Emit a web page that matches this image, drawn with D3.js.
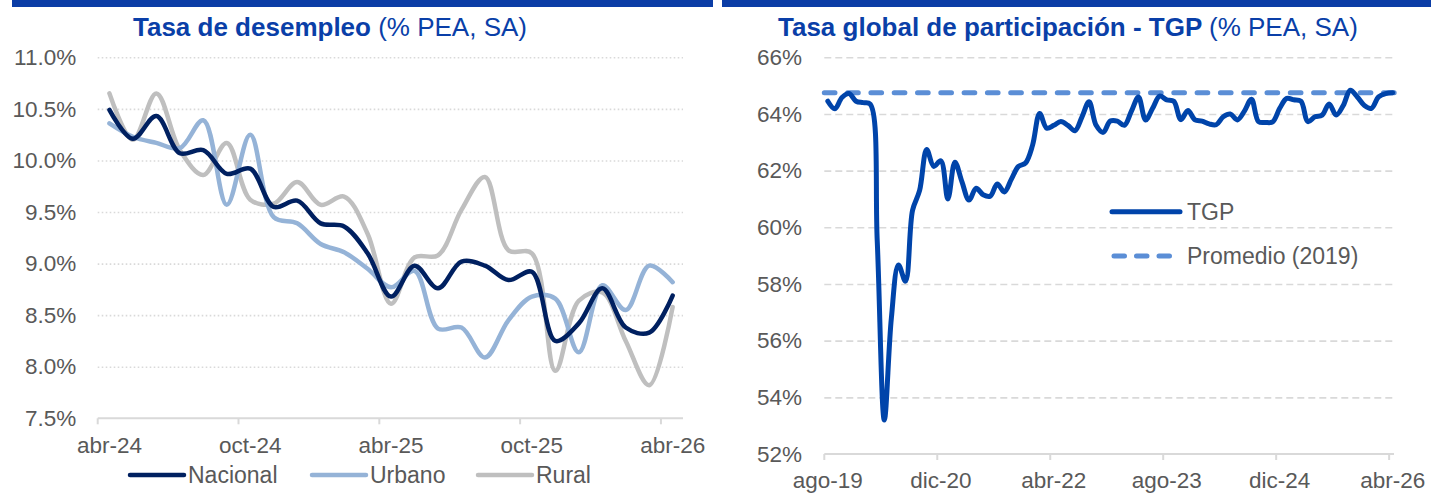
<!DOCTYPE html>
<html>
<head>
<meta charset="utf-8">
<script src="https://cdn.jsdelivr.net/npm/d3@7"></script>
<style>
  html, body { margin: 0; padding: 0; background: #fff; }
  svg { display: block; font-family: "Liberation Sans", Arial, sans-serif; }
</style>
</head>
<body>
<div id="chart"></div>
<script>
// ---- data: left panel (tasa de desempleo, %)
var monthsL = ["abr-24", "may-24", "jun-24", "jul-24", "ago-24", "sep-24", "oct-24", "nov-24", "dic-24",
  "ene-25", "feb-25", "mar-25", "abr-25", "may-25", "jun-25", "jul-25", "ago-25", "sep-25", "oct-25",
  "nov-25", "dic-25", "ene-26", "feb-26", "mar-26", "abr-26"];
var nacional = [10.49, 10.21, 10.43, 10.07, 10.10, 9.87, 9.92, 9.55, 9.61, 9.39, 9.36, 9.10, 8.68,
  8.98, 8.76, 9.02, 8.98, 8.84, 8.92, 8.25, 8.42, 8.76, 8.38, 8.33, 8.69];
var urbano = [10.36, 10.23, 10.17, 10.12, 10.39, 9.57, 10.25, 9.45, 9.39, 9.19, 9.11, 8.95, 8.77,
  8.93, 8.37, 8.38, 8.09, 8.45, 8.68, 8.66, 8.14, 8.79, 8.55, 8.98, 8.82];
var rural = [10.65, 10.20, 10.65, 10.10, 9.86, 10.17, 9.62, 9.58, 9.79, 9.57, 9.65, 9.29, 8.61,
  9.06, 9.08, 9.52, 9.84, 9.13, 9.10, 7.96, 8.64, 8.72, 8.25, 7.82, 8.58];
var ticksL = ["abr-24", "oct-24", "abr-25", "oct-25", "abr-26"];
var yTicksL = [7.5, 8.0, 8.5, 9.0, 9.5, 10.0, 10.5, 11.0];

// ---- data: right panel (TGP, %)
var monthsR = ["ago-19", "sep-19", "oct-19", "nov-19", "dic-19",
  "ene-20", "feb-20", "mar-20", "abr-20", "may-20", "jun-20", "jul-20", "ago-20", "sep-20", "oct-20", "nov-20", "dic-20",
  "ene-21", "feb-21", "mar-21", "abr-21", "may-21", "jun-21", "jul-21", "ago-21", "sep-21", "oct-21", "nov-21", "dic-21",
  "ene-22", "feb-22", "mar-22", "abr-22", "may-22", "jun-22", "jul-22", "ago-22", "sep-22", "oct-22", "nov-22", "dic-22",
  "ene-23", "feb-23", "mar-23", "abr-23", "may-23", "jun-23", "jul-23", "ago-23", "sep-23", "oct-23", "nov-23", "dic-23",
  "ene-24", "feb-24", "mar-24", "abr-24", "may-24", "jun-24", "jul-24", "ago-24", "sep-24", "oct-24", "nov-24", "dic-24",
  "ene-25", "feb-25", "mar-25", "abr-25", "may-25", "jun-25", "jul-25", "ago-25", "sep-25", "oct-25", "nov-25", "dic-25",
  "ene-26", "feb-26", "mar-26", "abr-26"];
var tgp = [64.45, 64.18, 64.58, 64.72, 64.45, 64.40, 64.35, 59.5, 53.2, 56.8,
  58.67, 58.10, 60.6, 61.3, 62.75, 62.15, 62.35, 61.0, 62.3, 61.6,
  60.96, 61.38, 61.15, 61.1, 61.53, 61.25, 61.7, 62.15, 62.27, 62.9,
  64.02, 63.5, 63.6, 63.73, 63.6, 63.41, 63.9, 64.43, 63.6, 63.35,
  63.75, 63.75, 63.6, 64.1, 64.6, 63.79, 64.2, 64.63, 64.5, 64.45,
  63.8, 64.12, 63.79, 63.75, 63.65, 63.62, 63.9, 64.0, 63.79, 64.1,
  64.52, 63.73, 63.7, 63.72, 64.2, 64.55, 64.5, 64.45, 63.73, 63.9,
  63.96, 64.35, 63.96, 64.3, 64.84, 64.6, 64.3, 64.2, 64.6, 64.72, 64.75];
var promedio2019 = 64.75;
var ticksR = ["ago-19", "dic-20", "abr-22", "ago-23", "dic-24", "abr-26"];
var yTicksR = [52, 54, 56, 58, 60, 62, 64, 66];

var W = 1431, H = 493;
var blue = "#0A3FA8", grey = "#595959", gridCol = "#D9D9D9";

var svg = d3.select("#chart").append("svg").attr("width", W).attr("height", H);

// top rules
svg.append("rect").attr("x", 12).attr("y", 0).attr("width", 701).attr("height", 7).attr("fill", "#0B3DA6");
svg.append("rect").attr("x", 722).attr("y", 0).attr("width", 709).attr("height", 7).attr("fill", "#0B3DA6");

function title(x, bold, rest) {
  var t = svg.append("text").attr("x", x).attr("y", 36).attr("fill", blue).style("font-size", "26px");
  t.append("tspan").attr("font-weight", "bold").text(bold);
  t.append("tspan").text(rest);
}
title(133, "Tasa de desempleo ", "(% PEA, SA)");
title(778, "Tasa global de participación - TGP ", "(% PEA, SA)");

function styleText(sel, size) {
  sel.selectAll("text").attr("fill", grey).style("font-size", size + "px")
    .style("font-family", "'Liberation Sans', Arial, sans-serif");
}

// ================= left panel
var xL = d3.scaleBand().domain(monthsL).range([97.7, 684.4]);
var yL = d3.scaleLinear().domain([7.5, 11]).range([418.3, 57.3]);

svg.append("g").attr("transform", "translate(97.7,0)")
  .call(d3.axisLeft(yL).tickValues(yTicksL.slice(1)).tickSize(-585.3).tickFormat(""))
  .call(function(g) {
    g.select(".domain").remove();
    g.selectAll("line").attr("stroke", gridCol).attr("stroke-width", 1.6)
      .attr("stroke-dasharray", "1.6,2.4");
  });

svg.append("g").attr("transform", "translate(97.7,0)")
  .call(d3.axisLeft(yL).tickValues(yTicksL).tickSize(0).tickFormat(function(d) { return d.toFixed(1) + "%"; }))
  .call(function(g) {
    g.select(".domain").remove();
    g.selectAll("text").attr("x", -21.5);
  })
  .call(styleText, 22.5);

// x axis
var gxL = svg.append("g").attr("transform", "translate(0,418.3)");
gxL.append("line").attr("x1", 97.7).attr("x2", 683).attr("stroke", gridCol).attr("stroke-width", 2);
gxL.selectAll("line.tk").data(ticksL).enter().append("line").attr("class", "tk")
  .attr("x1", function(d) { return xL(d); }).attr("x2", function(d) { return xL(d); })
  .attr("y1", 0).attr("y2", 6).attr("stroke", gridCol).attr("stroke-width", 2);
gxL.call(d3.axisBottom(xL).tickValues(ticksL).tickSize(0))
  .call(function(g) {
    g.select(".domain").remove();
    g.selectAll("text").attr("y", 34.7).attr("dy", 0);
  })
  .call(styleText, 22.5);

var lineL = function(vals) {
  return d3.line()
    .x(function(d, i) { return xL(monthsL[i]) + xL.bandwidth() / 2; })
    .y(function(d) { return yL(d); })
    .curve(d3.curveCatmullRom)(vals);
};
var seriesL = [
  { name: "Rural", values: rural, color: "#BFBFBF" },
  { name: "Urbano", values: urbano, color: "#95B3D7" },
  { name: "Nacional", values: nacional, color: "#002060" }
];
seriesL.forEach(function(s) {
  svg.append("path").attr("d", lineL(s.values)).attr("fill", "none")
    .attr("stroke", s.color).attr("stroke-width", 4.5)
    .attr("stroke-linejoin", "round").attr("stroke-linecap", "round");
});

// legend left
var legL = [
  { name: "Nacional", color: "#002060", x: 130 },
  { name: "Urbano", color: "#95B3D7", x: 312 },
  { name: "Rural", color: "#BFBFBF", x: 478 }
];
legL.forEach(function(l) {
  svg.append("line").attr("x1", l.x).attr("x2", l.x + 54).attr("y1", 475).attr("y2", 475)
    .attr("stroke", l.color).attr("stroke-width", 4.5).attr("stroke-linecap", "round");
  svg.append("text").attr("x", l.x + 58).attr("y", 483).attr("fill", grey)
    .style("font-size", "23px").text(l.name);
});

// ================= right panel
var xR = d3.scaleBand().domain(monthsR).range([824.3, 1396.2]);
var yR = d3.scaleLinear().domain([52, 66]).range([454, 57.3]);

svg.append("g").attr("transform", "translate(824.3,0)")
  .call(d3.axisLeft(yR).tickValues(yTicksR.slice(1)).tickSize(-569).tickFormat(""))
  .call(function(g) {
    g.select(".domain").remove();
    g.selectAll("line").attr("stroke", gridCol).attr("stroke-width", 1.6)
      .attr("stroke-dasharray", "7,4");
  });

svg.append("g").attr("transform", "translate(824.3,0)")
  .call(d3.axisLeft(yR).tickValues(yTicksR).tickSize(0).tickFormat(function(d) { return d + "%"; }))
  .call(function(g) {
    g.select(".domain").remove();
    g.selectAll("text").attr("x", -22.3);
  })
  .call(styleText, 22.5);

var gxR = svg.append("g").attr("transform", "translate(0,454)");
gxR.append("line").attr("x1", 824.3).attr("x2", 1394).attr("stroke", gridCol).attr("stroke-width", 2);
gxR.selectAll("line.tk").data(ticksR).enter().append("line").attr("class", "tk")
  .attr("x1", function(d) { return xR(d); }).attr("x2", function(d) { return xR(d); })
  .attr("y1", 0).attr("y2", 6).attr("stroke", gridCol).attr("stroke-width", 2);
gxR.call(d3.axisBottom(xR).tickValues(ticksR).tickSize(0))
  .call(function(g) {
    g.select(".domain").remove();
    g.selectAll("text").attr("y", 34).attr("dy", 0);
  })
  .call(styleText, 22.5);

// promedio 2019
svg.append("line")
  .attr("x1", xR(monthsR[0])).attr("x2", xR(monthsR[monthsR.length - 1]) + xR.bandwidth())
  .attr("y1", yR(promedio2019)).attr("y2", yR(promedio2019))
  .attr("stroke", "#5B8ED6").attr("stroke-width", 5)
  .attr("stroke-dasharray", "10.7,12.6").attr("stroke-linecap", "round");

svg.append("path")
  .attr("d", d3.line()
    .x(function(d, i) { return xR(monthsR[i]) + xR.bandwidth() / 2; })
    .y(function(d) { return yR(d); })
    .curve(d3.curveCatmullRom)(tgp))
  .attr("fill", "none").attr("stroke", "#0044AA").attr("stroke-width", 5)
  .attr("stroke-linejoin", "round").attr("stroke-linecap", "round");

// legend right
svg.append("line").attr("x1", 1112).attr("x2", 1180).attr("y1", 211.7).attr("y2", 211.7)
  .attr("stroke", "#0044AA").attr("stroke-width", 5).attr("stroke-linecap", "round");
svg.append("text").attr("x", 1187).attr("y", 220).attr("fill", grey).style("font-size", "23px").text("TGP");
svg.append("line").attr("x1", 1114).attr("x2", 1175).attr("y1", 256).attr("y2", 256)
  .attr("stroke", "#5B8ED6").attr("stroke-width", 5)
  .attr("stroke-dasharray", "10.5,12").attr("stroke-linecap", "round");
svg.append("text").attr("x", 1187).attr("y", 264).attr("fill", grey).style("font-size", "23px").text("Promedio (2019)");
</script>
</body>
</html>
